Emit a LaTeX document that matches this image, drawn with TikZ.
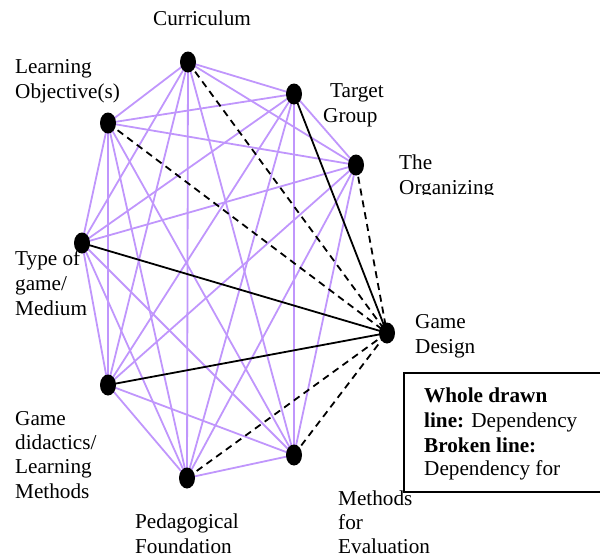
\documentclass[tikz,border=0pt]{standalone}
\usepackage{fontspec}
\setmainfont{Liberation Serif}
\usetikzlibrary{shapes.geometric}
\definecolor{lilac}{RGB}{192,150,252}
\begin{document}
\begin{tikzpicture}[x=1pt,y=-1pt,
  dot/.style={ellipse,fill=black,minimum width=16pt,minimum height=21pt,inner sep=0pt},
  pl/.style={draw=lilac,line width=1.8pt},
  dep/.style={draw=black,line width=1.8pt},
  brk/.style={draw=black,line width=1.8pt,dash pattern=on 7pt off 5pt},
  lbl/.style={anchor=base west,inner sep=0pt,font=\fontsize{21.2}{25}\selectfont}]
\useasboundingbox (0,0) rectangle (600,558);
\clip (0,0) rectangle (600,558);
% node positions
\coordinate (C) at (188,62);
\coordinate (T) at (294,94);
\coordinate (O) at (356,165);
\coordinate (G) at (387,333);
\coordinate (M) at (294,455);
\coordinate (P) at (187,478);
\coordinate (D) at (108,385);
\coordinate (Y) at (82,243);
\coordinate (L) at (108,123);
% purple complete graph
\foreach \a/\b in {C/T,C/O,C/M,C/P,C/D,C/Y,C/L,
                   T/O,T/M,T/P,T/D,T/Y,T/L,
                   O/M,O/P,O/D,O/Y,O/L,
                   M/P,M/D,M/Y,M/L,
                   P/D,P/Y,P/L,
                   D/Y,D/L,
                   Y/L}
  \draw[pl] (\a) -- (\b);
% dependencies to game design
\draw[dep] (T) -- (G);
\draw[dep] (Y) -- (G);
\draw[dep] (D) -- (G);
\draw[brk] (C) -- (G);
\draw[brk] (L) -- (G);
\draw[brk] (O) -- (G);
\draw[brk] (M) -- (G);
\draw[brk] (P) -- (G);
% dots
\foreach \n in {C,T,O,G,M,P,D,Y,L}
  \node[dot] (d\n) at (\n) {};
% labels
\node[lbl] (lc) at (153,25) {Curriculum};
\node[lbl] (ll1) at (15,73) {Learning};
\node[lbl] (ll2) at (15,98) {Objective(s)};
\node[lbl] (lt1) at (330,97) {Target};
\node[lbl] (lt2) at (323,122) {Group};
\begin{scope}
\clip (390,140) rectangle (540,194);
\node[lbl] (lo1) at (399,169) {The};
\node[lbl] (lo2) at (399,194) {Organizing};
\end{scope}
\node[lbl] (ly1) at (15,265) {Type of};
\node[lbl] (ly2) at (15,290) {game/};
\node[lbl] (ly3) at (15,315) {Medium};
\node[lbl] (lg1) at (415,328) {Game};
\node[lbl] (lg2) at (415,353) {Design};
\node[lbl] (ld1) at (15,425) {Game};
\node[lbl] (ld2) at (15,449) {didactics/};
\node[lbl] (ld3) at (15,473) {Learning};
\node[lbl] (ld4) at (15,498) {Methods};
\node[lbl] (lp1) at (135,528) {Pedagogical};
\node[lbl] (lp2) at (135,553) {Foundation};
% legend
\draw[black,line width=1.2pt,fill=white] (404,373) rectangle (620,492);
\node[lbl] (lm1) at (338,505) {Methods};
\node[lbl] (lm2) at (338,529) {for};
\node[lbl] (lm3) at (338,553) {Evaluation};
\node[lbl] (k1) at (424,402) {\textbf{Whole drawn}};
\node[lbl] (k2) at (424,427) {\textbf{line:} Dependency};
\node[lbl] (k3) at (424,452) {\textbf{Broken line:}};
\node[lbl] (k4) at (424,475) {Dependency for};
\end{tikzpicture}
\end{document}
